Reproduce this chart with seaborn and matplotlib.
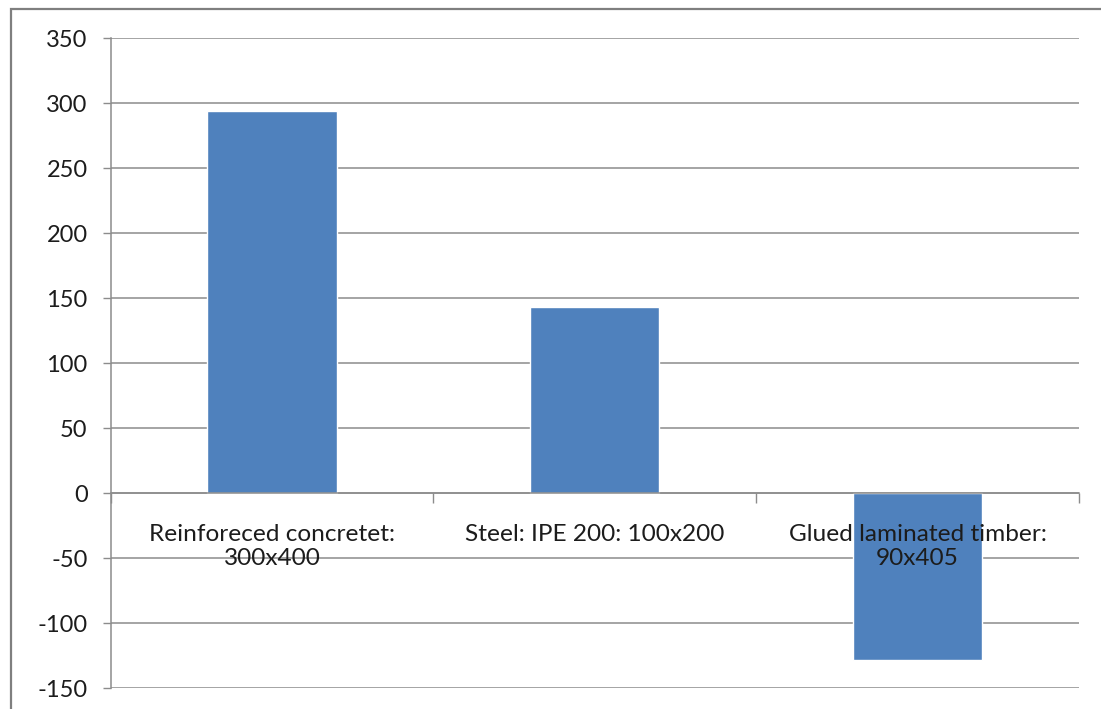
import matplotlib
matplotlib.use("Agg")
import matplotlib.pyplot as plt
from matplotlib.patches import Rectangle
from matplotlib.ticker import FixedLocator
import seaborn as sns
import pandas as pd

categories = [
    "Reinforeced concretet:\n300x400",
    "Steel: IPE 200: 100x200",
    "Glued laminated timber:\n90x405",
]
values = [294, 143, -128]
y_ticks = [-150, -100, -50, 0, 50, 100, 150, 200, 250, 300, 350]

sns.set_theme(style="white")
plt.rcParams["font.family"] = ["Lato", "DejaVu Sans"]

df = pd.DataFrame({"section": categories, "value": values})

fig = plt.figure(figsize=(11.01, 7.09), dpi=100)
ax = fig.add_axes([0.1004, 0.0292, 0.98 - 0.1004, 0.946 - 0.0292])

sns.barplot(data=df, x="section", y="value", color="#4F81BD", saturation=1,
            width=0.40, ax=ax, zorder=2)

grid_c = "#8c8c8c"
text_c = "#1c1c1c"
ax.set_ylim(y_ticks[0], y_ticks[-1])
ax.set_xlim(-0.5, len(categories) - 0.5)
ax.yaxis.set_major_locator(FixedLocator(y_ticks))
ax.set_yticklabels([str(v) for v in y_ticks])
ax.yaxis.grid(True, color=grid_c, linewidth=1.1)
ax.xaxis.grid(False)
ax.tick_params(axis="y", which="major", left=True, length=5.5, width=1.0,
               color=grid_c, pad=11, labelsize=17, labelcolor=text_c)

# category boundaries carry the tick marks; labels sit at the centres
ax.xaxis.set_major_locator(FixedLocator([i - 0.5 for i in range(len(categories) + 1)]))
ax.xaxis.set_minor_locator(FixedLocator(list(range(len(categories)))))
ax.set_xticklabels([""] * (len(categories) + 1))
ax.set_xticklabels(categories, minor=True)
ax.tick_params(axis="x", which="major", bottom=True, direction="out",
               length=7, width=1.0, color=grid_c)
ax.tick_params(axis="x", which="minor", bottom=False, length=0, pad=22,
               labelsize=17.6, labelcolor=text_c)
for lbl in ax.get_xticklabels(minor=True):
    lbl.set_linespacing(1.7)

ax.set_xlabel("")
ax.set_ylabel("")

for side in ("top", "right"):
    ax.spines[side].set_visible(False)
ax.spines["left"].set_color(grid_c)
ax.spines["left"].set_linewidth(1.1)
ax.spines["bottom"].set_position(("data", 0))
ax.spines["bottom"].set_color(grid_c)
ax.spines["bottom"].set_linewidth(1.1)

# gridlines behind the bars, category labels in front of them
ax.set_axisbelow(True)
ax.yaxis.set_zorder(0.5)
ax.xaxis.set_zorder(3)

# chart-area frame (left and top edges visible)
frame_top = 1 - 9 / 709
fig.patches.append(Rectangle((10.5 / 1101, -0.2), 1.2, frame_top + 0.2,
                             transform=fig.transFigure, fill=False,
                             edgecolor="#7f7f7f", linewidth=1.6))

fig.savefig("out.png", dpi=100)
